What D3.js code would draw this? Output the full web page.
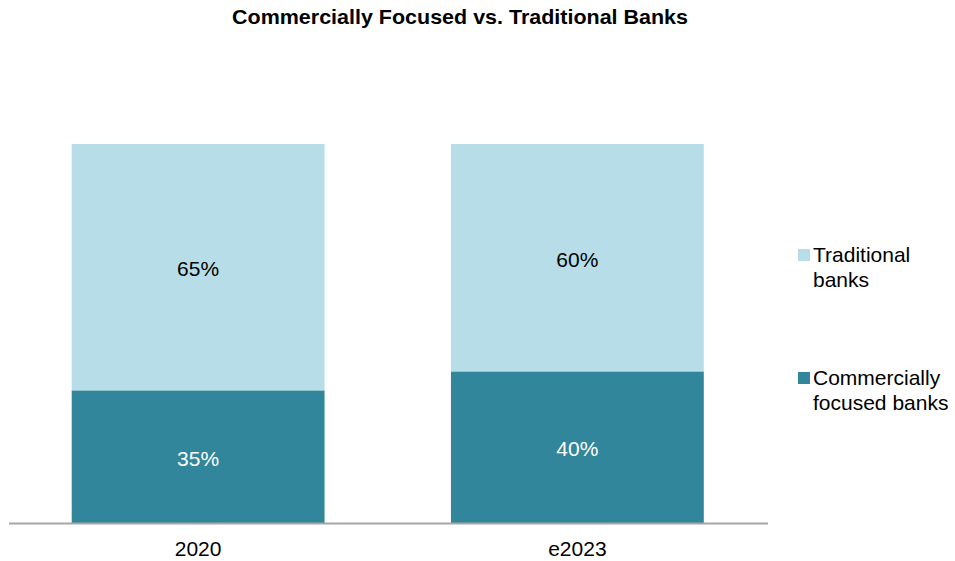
<!DOCTYPE html>
<html>
<head>
<meta charset="utf-8">
<script src="https://cdn.jsdelivr.net/npm/d3@7"></script>
<style>
  body { margin: 0; background: white; }
  text { font-family: "Liberation Sans", Arial, sans-serif; }
</style>
</head>
<body>
<div id="graph"></div>
<script>
const categories = ["2020", "e2023"];
const commercial = [35, 40];
const traditional = [65, 60];
const seriesNames = ["Commercially focused banks", "Traditional banks"];
const colors = ["#31869b", "#b7dee8"];

const width = 955, height = 561;

const svg = d3.select('#graph')
  .append("svg")
  .attr("width", width).attr("height", height)
  .style("background", "white");

// title
svg.append("text")
  .attr("x", 460).attr("y", 24)
  .attr("text-anchor", "middle")
  .style("font-weight", "bold")
  .style("font-size", "21px")
  .attr("textLength", 456)
  .attr("lengthAdjust", "spacingAndGlyphs")
  .text("Commercially Focused vs. Traditional Banks");

const xScale = d3.scaleBand()
  .domain(categories)
  .range([8.5, 767])
  .paddingInner(1/3)
  .paddingOuter(1/6);

const yScale = d3.scaleLinear()
  .domain([0, 100])
  .range([523, 144]);

const rows = categories.map((c, i) => ({cat: c, commercial: commercial[i], traditional: traditional[i]}));
const stack = d3.stack().keys(["commercial", "traditional"])(rows);

const layers = svg.append("g").selectAll("g").data(stack).enter().append("g")
  .attr("fill", (d, i) => colors[i]);

layers.selectAll("rect").data(d => d).enter().append("rect")
  .attr("x", d => xScale(d.data.cat))
  .attr("width", xScale.bandwidth())
  .attr("y", d => yScale(d[1]))
  .attr("height", d => yScale(d[0]) - yScale(d[1]));

layers.selectAll("text").data((d, i) => d.map(p => ({p, i}))).enter().append("text")
  .attr("x", d => xScale(d.p.data.cat) + xScale.bandwidth() / 2)
  .attr("y", d => (yScale(d.p[0]) + yScale(d.p[1])) / 2 + 9)
  .attr("text-anchor", "middle")
  .style("font-size", "21px")
  .attr("fill", d => d.i === 0 ? "white" : "black")
  .text(d => (d.p[1] - d.p[0]) + "%");

// baseline axis
const xAxis = d3.axisBottom(xScale).tickSize(0).tickPadding(18);
const ax = svg.append("g").attr("transform", "translate(0,523.5)").call(xAxis);
ax.select(".domain").attr("stroke", "#a6a6a6").attr("stroke-width", 2)
  .attr("d", "M9,0H768");
ax.selectAll("text").style("font-size", "21px").attr("fill", "black")
  .style("font-family", "'Liberation Sans', Arial, sans-serif");

// legend
const legendItems = [
  {name: ["Traditional", "banks"], color: colors[1], y: 249},
  {name: ["Commercially", "focused banks"], color: colors[0], y: 372}
];
const lg = svg.append("g").selectAll("g").data(legendItems).enter().append("g");
lg.append("rect")
  .attr("x", 798).attr("y", d => d.y)
  .attr("width", 12).attr("height", 12)
  .attr("fill", d => d.color);
lg.append("text")
  .attr("x", 813).attr("y", d => d.y + 13)
  .style("font-size", "21px")
  .selectAll("tspan").data(d => d.name).enter().append("tspan")
  .attr("x", 813)
  .attr("dy", (d, i) => i === 0 ? 0 : 25)
  .text(d => d);
</script>
</body>
</html>
